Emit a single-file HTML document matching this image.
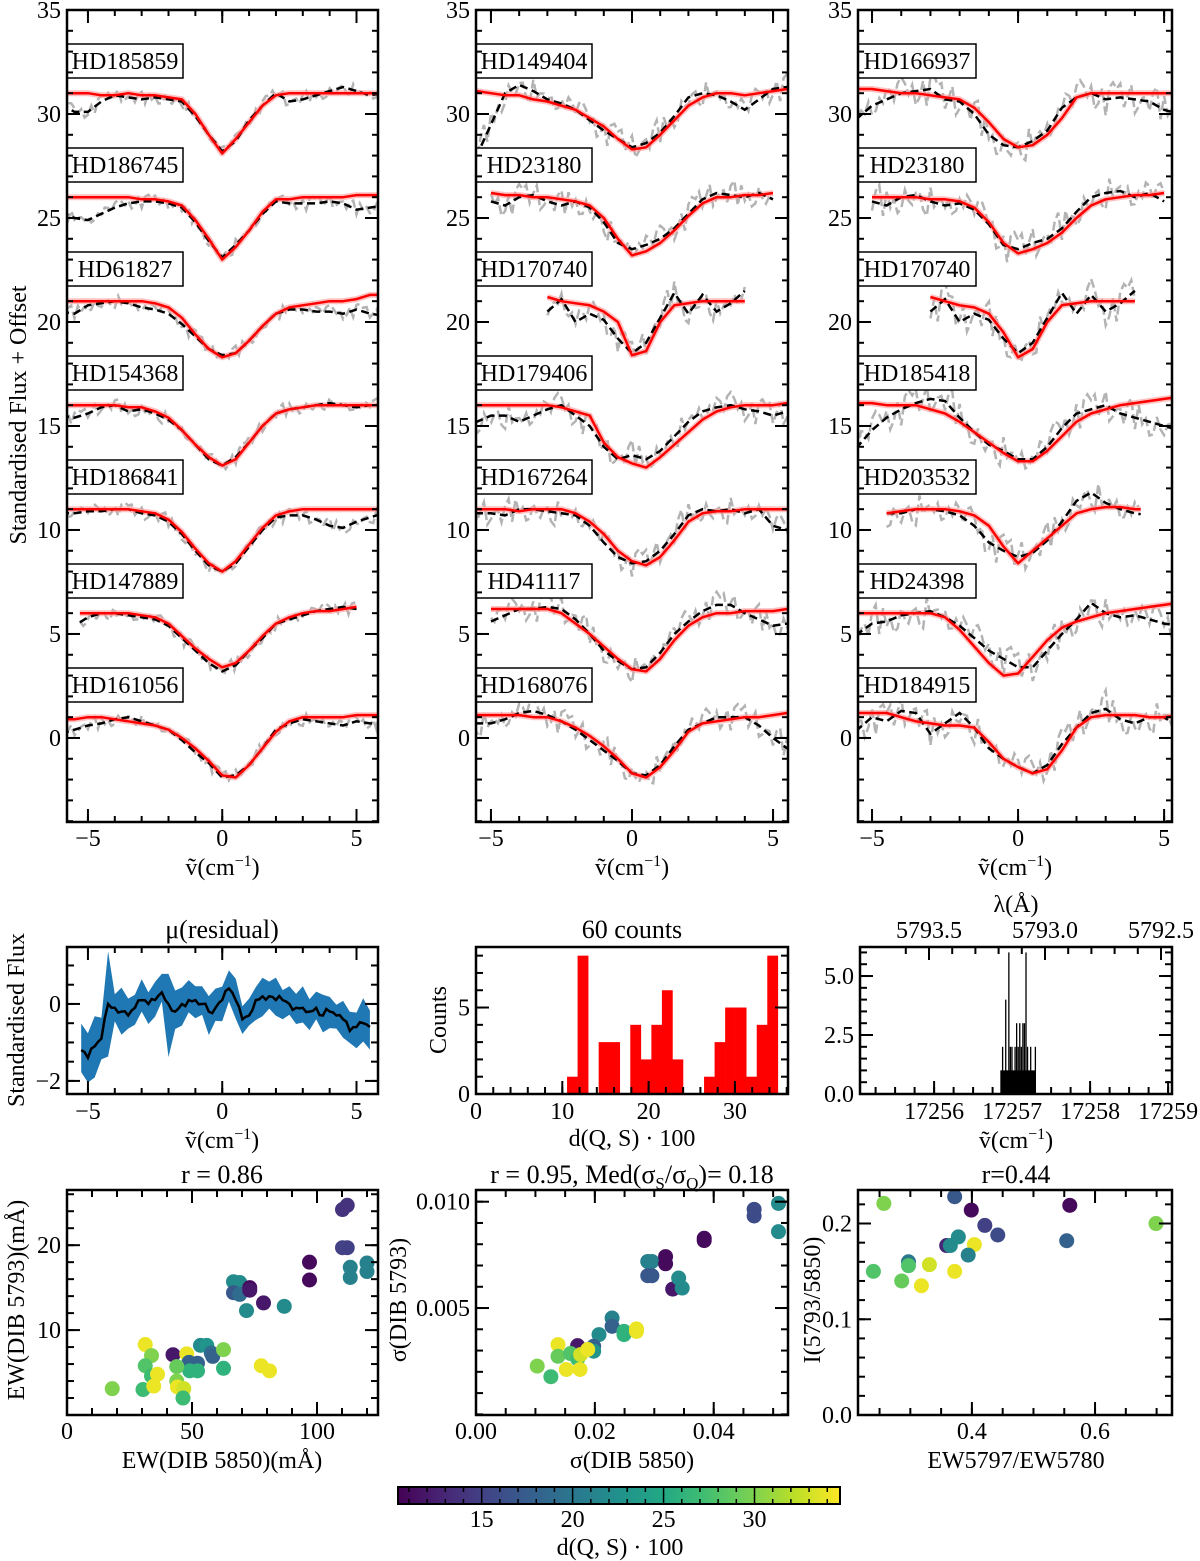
<!DOCTYPE html>
<html><head><meta charset="utf-8">
<style>
html,body{margin:0;padding:0;background:#fff;}
svg{display:block;font-family:"Liberation Serif",serif;}
</style></head>
<body>
<svg id="fig" width="1200" height="1561" viewBox="0 0 1200 1561" xmlns="http://www.w3.org/2000/svg"></svg>
<script>
// ---------------- DATA ----------------
const gridX = [-6,-5.5,-5,-4.5,-4,-3.5,-3,-2.5,-2,-1.5,-1,-0.5,0,0.5,1,1.5,2,2.5,3,3.5,4,4.5,5,5.5,6];
const noiseVals = [.3,-.4,.6,-.2,.1,-.6,.5,.2,-.3,.7,-.5,.1,.4,-.7,.2,-.1,.6,-.4,.3,-.2,.5,-.6,.1,.8,-.3,.2,-.5,.4,-.1,.6,-.7,.3,-.2,.5,-.4,.1,.7,-.3,-.6,.4,.2,-.5,.6,-.1,.3,-.4,.5,-.2,.1];

const p1Names = ["HD185859","HD186745","HD61827","HD154368","HD186841","HD147889","HD161056"];
const p1Base = [31,26,21,16,11,6,1];
const p1Red = [
[0,0,0,-.1,-.1,0,-.1,-.1,-.2,-.3,-1,-2,-2.9,-2.2,-1.4,-.6,-.1,0,0,0,0,0,0,0,0],
[0,0,0,0,0,0,-.1,-.1,-.2,-.4,-1.1,-2,-3,-2.4,-1.6,-.7,-.1,-.1,0,0,0,0,.1,.1,.1],
[0,0,0,0,0,0,0,-.1,-.3,-.8,-1.6,-2.3,-2.7,-2.5,-1.9,-1.2,-.6,-.3,-.2,-.1,0,0,.1,.3,.3],
[0,0,0,0,0,-.1,-.1,-.3,-.6,-1.2,-1.9,-2.5,-2.9,-2.6,-1.8,-1,-.4,-.2,-.1,0,0,0,0,0,0],
[0,0,0,0,0,0,-.1,-.2,-.5,-1.1,-1.9,-2.6,-3,-2.5,-1.7,-.9,-.3,-.1,0,0,0,0,0,0,0],
[0,0,0,0,0,0,-.1,-.2,-.5,-1.1,-1.7,-2.2,-2.6,-2.4,-1.8,-1.1,-.5,-.2,0,.1,.1,.2,.3,.3,.3],
[-.1,-.1,0,0,-.1,-.2,-.3,-.4,-.6,-1,-1.5,-2.1,-2.8,-2.9,-2.3,-1.5,-.7,-.2,0,0,0,0,.1,.1,.1]];
const p1Black = [
[-.5,-.9,-.9,-.4,-.1,-.2,-.3,-.2,-.3,-.4,-1.1,-2,-2.8,-2.3,-1.3,-.6,0,-.4,-.3,-.1,.1,.3,.1,-.1,0],
[-.7,-1,-1.1,-.8,-.5,-.3,-.2,-.2,-.3,-.5,-1.2,-2.1,-2.9,-2.3,-1.6,-.8,-.2,-.3,-.3,-.3,-.2,-.3,-.6,-.5,-.4],
[-.5,-.6,-.2,-.1,0,-.1,-.3,-.4,-.6,-1.1,-1.7,-2.3,-2.6,-2.5,-1.9,-1.2,-.6,-.4,-.4,-.5,-.5,-.6,-.4,-.6,-.7],
[-.5,-.6,-.4,-.1,0,-.3,-.2,-.4,-.7,-1.2,-1.9,-2.6,-2.9,-2.5,-1.8,-1,-.4,-.2,-.1,0,.1,0,-.1,0,0],
[-.2,-.2,-.1,-.1,0,0,-.2,-.3,-.6,-1.2,-2,-2.7,-3,-2.6,-1.8,-1,-.4,-.3,-.3,-.5,-.8,-.9,-.6,-.4,-.2],
[-.8,-.6,-.2,0,0,-.1,-.2,-.3,-.6,-1.2,-1.8,-2.4,-2.8,-2.5,-1.8,-1.2,-.5,-.3,-.1,.1,.2,.3,.2,.2,.2],
[-.8,-.6,-.4,-.3,-.1,0,-.2,-.4,-.6,-1.1,-1.7,-2.2,-2.9,-2.8,-2.3,-1.5,-.6,-.3,-.1,-.2,-.3,-.4,-.2,-.3,-.3]];
const p1Range = [[-6,6],[-6,6],[-6,6],[-6,6],[-6,6],[-5.3,5.0],[-6,6]];

const p2Names = ["HD149404","HD23180","HD170740","HD179406","HD167264","HD41117","HD168076"];
const p2Base = [31,26,21,16,11,6,1];
const p2Red = [
[.1,.1,0,-.1,-.1,-.3,-.4,-.6,-.8,-1.2,-1.6,-2.2,-2.7,-2.6,-2,-1.3,-.6,-.2,0,0,-.1,0,.1,.2,.2],
[.2,.2,.2,.1,.1,0,0,-.1,-.2,-.4,-1,-2,-2.8,-2.6,-2.2,-1.6,-.9,-.3,0,0,.1,.1,.2,.3,.3],
[0,0,0,0,0,0,.2,0,-.1,-.2,-.5,-1,-2.6,-2.4,-1,-.2,-.1,0,0,0,0,.1,0,0,0],
[0,0,0,0,0,0,0,-.1,-.3,-.5,-1.8,-2.5,-2.8,-3,-2.5,-1.9,-1.3,-.7,-.3,-.1,0,0,0,.1,.1],
[0,0,0,0,-.1,0,0,0,-.2,-.6,-1.2,-2,-2.5,-2.7,-2.3,-1.5,-.6,-.2,-.1,-.1,0,0,0,0,0],
[.2,.2,.2,.2,.2,.2,.2,0,-.5,-1,-1.6,-2.2,-2.7,-2.8,-2.2,-1.3,-.6,-.2,0,0,.1,.1,.1,.2,.2],
[.1,.1,.1,.1,.1,0,0,-.2,-.5,-.9,-1.4,-2,-2.7,-2.9,-2.4,-1.6,-.7,-.3,-.2,-.1,0,0,.1,.2,.2]];
const p2Black = [
[-3,-3,-1.5,0,.4,.1,-.3,-.5,-.8,-1.3,-1.8,-2.2,-2.6,-2.4,-1.9,-1.1,-.2,0,-.1,-.4,-.8,-.3,.2,.3,.3],
[-.6,-.6,-.2,-.4,0,.1,-.2,-.4,-.2,-.5,-1.2,-2.2,-2.5,-2.3,-2,-1.5,-.8,-.1,.2,.1,0,.2,-.1,-.4,-.4],
[0,0,0,0,0,-.4,-.5,.1,-1,-.6,-.9,-1.8,-2.5,-2,-.8,.4,-.6,.3,-.5,-.1,.5,.1,-.3,-.5,-.5],
[-.8,-.8,-.5,-.5,-.8,-.5,-.2,0,-.5,-1,-2,-2.6,-2.4,-2.6,-2.2,-1.5,-.8,-.3,-.1,0,-.2,-.3,-.5,-.3,-.1],
[-.3,-.2,-.2,-.3,0,0,-.1,-.2,-.3,-.8,-1.6,-2.3,-2.6,-2.5,-2,-1.2,-.3,0,-.1,0,-.2,0,-.8,-1,-1],
[-1,-1,-.4,-.1,.2,.2,.3,.2,-.3,-1,-1.8,-2.3,-2.7,-2.6,-1.9,-1,-.4,.1,.4,.4,0,-.3,-.6,-.5,-.5],
[-.3,-.3,-.3,-.1,.2,.3,.1,-.2,-.6,-1.1,-1.6,-2.1,-2.7,-2.8,-2.3,-1.4,-.6,-.3,0,0,0,-.4,-1,-1.5,-1.5]];
const p2Range = [[-6,6],[-5,5],[-3,4],[-6,6],[-6,6],[-5,6],[-6,6]];

const p3Names = ["HD166937","HD23180","HD170740","HD185418","HD203532","HD24398","HD184915"];
const p3Base = [31,26,21,16,11,6,1];
const p3Red = [
[.2,.2,.2,.1,0,0,-.1,-.2,-.3,-.7,-1.4,-2.2,-2.6,-2.5,-2,-1.2,-.2,0,0,0,0,0,0,0,0],
[.1,.1,0,0,0,0,-.1,-.1,-.2,-.5,-1.2,-2.2,-2.7,-2.5,-2.2,-1.7,-1,-.4,-.1,0,.1,.1,.2,.3,.3],
[0,0,0,0,0,0,.2,0,-.2,-.3,-.6,-1.5,-2.7,-2.3,-1,-.2,-.1,0,0,0,0,.1,0,0,0],
[.1,.1,.1,0,0,0,-.2,-.4,-.8,-1.3,-1.8,-2.3,-2.7,-2.7,-2.2,-1.5,-.8,-.4,-.2,0,.1,.2,.3,.4,.4],
[0,0,0,-.2,-.1,0,0,0,-.1,-.3,-.8,-1.8,-2.6,-2,-1.4,-.8,-.2,0,.1,.1,0,0,0,0,0],
[0,0,0,0,0,0,0,-.2,-.8,-1.6,-2.4,-3,-2.9,-2.1,-1.3,-.7,-.4,-.2,0,.1,.2,.3,.4,.5,.5],
[.2,.2,.2,.2,0,-.2,-.3,-.4,-.4,-.5,-1.2,-2,-2.4,-2.7,-2.5,-1.6,-.5,0,.1,.1,.1,0,0,.1,.1]];
const p3Black = [
[-1.2,-1.2,-.6,-.3,0,.1,.2,-.3,-.4,-1,-2,-2.5,-2.6,-2.3,-1.8,-.7,-.2,0,-.3,-.2,-.3,-.4,-.8,-1,-1],
[-.5,-.5,-.2,-.4,0,.1,-.2,-.4,-.3,-.6,-1.3,-2.3,-2.5,-2.2,-2,-1.5,-.7,0,.2,.3,0,.2,-.2,-.4,-.4],
[0,0,0,0,0,-.4,-.5,.1,-1,-.6,-.9,-1.8,-2.5,-2,-.8,.4,-.6,.3,-.5,-.1,.5,.1,-.3,-.5,-.5],
[-2,-2,-1.2,-.6,-.2,.1,.3,.2,-.6,-1.3,-1.9,-2.2,-2.6,-2.6,-2,-1.1,-.4,-.2,0,-.4,-.6,-.8,-1,-1.2,-1.2],
[0,0,0,-.2,-.2,0,0,-.1,-.3,-.8,-1.6,-2,-2.3,-2.1,-1.5,-.6,.4,.8,.3,0,-.2,-.3,-.5,0,0],
[-1,-1,-.5,-.4,-.1,0,.1,-.2,-.6,-1.2,-1.8,-2.2,-2.6,-2.6,-1.8,-1,-.3,.5,0,-.2,-.1,-.3,-.5,-.6,-.6],
[-.6,-.6,0,-.2,.3,.2,-.8,-.3,.2,-.5,-1.5,-2,-2.4,-2.7,-2.3,-1.3,-.5,.2,.4,-.1,-.3,0,0,-.5,-.5]];
const p3Range = [[-6,6],[-5,5],[-3,4],[-6,6],[-4.5,4.2],[-6,6],[-6,6]];

// residual panel
const resX = [-5.25,-5,-4.75,-4.5,-4.25,-4,-3.75,-3.5,-3.25,-3,-2.75,-2.5,-2.25,-2,-1.75,-1.5,-1.25,-1,-0.75,-0.5,-0.25,0,0.25,0.5,0.75,1,1.25,1.5,1.75,2,2.25,2.5,2.75,3,3.25,3.5,3.75,4,4.25,4.5,4.75,5,5.25,5.5];
const resMean = [-1.2,-1.4,-1.1,-.9,0,-.1,-.2,-.3,-.1,.1,0,.1,.3,0,-.2,0,.1,.1,0,-.2,-.1,.1,.4,.1,-.4,-.3,.1,.2,.2,.1,.1,0,-.1,-.1,-.2,-.1,-.3,-.2,-.3,-.4,-.7,-.6,-.5,-.6];
const resHalf = [.6,.8,.6,.6,1.3,.5,.5,.4,.4,.4,.4,.45,.4,1.2,.5,.45,.4,.45,.4,.45,.4,.5,.45,.4,.4,.4,.45,.4,.4,.45,.4,.4,.4,.45,.4,.4,.4,.45,.4,.4,.45,.5,.5,.45];

// histogram of d(Q,S)
const histStart = 10.55, histWidth = 1.221;
const histCounts = [1,8,0,3,3,0,4,2,4,6,2,0,0,1,3,5,5,1,4,8];

// wavenumber histogram
const wnStart = 17256.85, wnWidth = 0.02;
const wnCounts = [1,2,1,4,1,6,2,2,1,2,3,2,3,2,3,3,6,2,1,2,1,0,2,0,0,0];

// scatter 1: EW5850 vs EW5793
const s1x = [112.1,110.2,112.1,110.2,97.0,97.0,113.3,113.3,120.0,120.0,66.6,69.1,66.6,69.1,73.1,73.1,78.6,71.8,86.9,31.3,33.8,31.3,33.8,36.2,18.1,30.4,34.7,42.4,47.9,48.8,52.2,49.1,52.2,43.9,43.9,44.2,46.7,46.4,53.4,55.9,57.7,58.3,62.6,62.6,77.7,81.0];
const s1y = [24.7,24.2,19.7,19.7,18.0,15.9,17.4,16.2,17.9,16.9,15.7,15.6,14.4,14.2,15.0,14.7,13.2,12.3,12.8,8.3,7.0,5.8,4.6,4.8,3.1,3.0,3.4,7.1,7.2,6.2,6.1,5.2,5.2,5.7,4.0,3.3,3.1,2.0,8.2,8.2,7.3,6.9,7.7,5.5,5.8,5.2];
const s1d = [14,14,15,15,11,11,21,21,21,21,22,22,17,19,11,12,12,22,22,34,30,28,27,34,30,27,34,12,34,18,18,26,26,29,30,34,33,27,22,23,19,18,30,26,34,34];

// scatter 2: sigma
const s2x = [.0509,.0509,.0468,.0468,.0384,.0384,.0289,.0296,.0289,.0296,.0319,.0319,.0331,.0341,.0347,.0229,.0229,.0207,.0198,.0198,.0249,.0249,.0270,.0270,.0171,.0138,.0138,.0159,.0171,.0176,.0175,.0152,.0103,.0126,.0188];
const s2y = [.00992,.00859,.00964,.00933,.00828,.00817,.00719,.00719,.00652,.00652,.00742,.00708,.00589,.00641,.00594,.00453,.00414,.00375,.0032,.00297,.0039,.00375,.00402,.0039,.00323,.00328,.00273,.00286,.00261,.00281,.00211,.00211,.00227,.00177,.00305];
const s2d = [22,22,16,16,11,11,21,21,17,17,11,11,12,22,22,21,18,22,18,23,26,26,34,34,12,34,29,28,27,33,34,34,30,27,34];

// scatter 3: ratio
const s3x = [.257,.372,.559,.399,.699,.421,.442,.554,.378,.359,.365,.404,.394,.297,.297,.331,.240,.372,.286,.318];
const s3y = [.221,.228,.219,.214,.200,.198,.188,.182,.186,.177,.177,.178,.167,.160,.156,.157,.150,.150,.140,.135];
const s3d = [30,17,11,11,30,15,16,18,22,13,22,34,21,20,28,33,28,34,29,34];

const cbMin = 10.4, cbMax = 34.7;
const cbTicks = [15,20,25,30];

// ---------------- HELPERS ----------------
const svg = document.getElementById('fig');
const NS = "http://www.w3.org/2000/svg";
const TF = 24;
function mk(tag, parent){ const e=document.createElementNS(NS,tag); (parent||svg).appendChild(e); return e; }
function set(e, k, v){ e.setAttribute(k, v); }
function lin(d0,d1,r0,r1){ return v => r0 + (v-d0)*(r1-r0)/(d1-d0); }
const vir = ["#440154","#482475","#414487","#355f8d","#2a788e","#21918c","#22a884","#44bf70","#7ad151","#bddf26","#fde725"];
function hex(h){return [parseInt(h.substr(1,2),16),parseInt(h.substr(3,2),16),parseInt(h.substr(5,2),16)];}
function viridis(t){ t=Math.max(0,Math.min(1,t)); const f=t*10, i=Math.min(9,Math.floor(f)), u=f-i; const a=hex(vir[i]), b=hex(vir[i+1]); return `rgb(${a.map((c,k)=>Math.round(c+(b[k]-c)*u)).join(',')})`; }
function txt(x,y,s,size,anchor,parent){ const t=mk('text',parent); set(t,'x',x); set(t,'y',y); set(t,'font-size',size); set(t,'text-anchor',anchor||'middle'); t.textContent=s; return t; }

function panel(name, x0,x1,y0,y1, xmin,xmax,ymin,ymax){
  const g = mk('g');
  
  
  const cp = mk('clipPath', g); const cid='clip-'+name; set(cp,'id',cid);
  const r = mk('rect', cp); set(r,'x',x0); set(r,'y',y0); set(r,'width',x1-x0); set(r,'height',y1-y0);
  const data = mk('g', g); set(data,'clip-path',`url(#${cid})`);
  
  
  return {g, data, x0,x1,y0,y1, sx:lin(xmin,xmax,x0,x1), sy:lin(ymin,ymax,y1,y0), xmin,xmax,ymin,ymax};
}
function frame(p){
  const r = mk('rect', p.g); set(r,'x',p.x0); set(r,'y',p.y0); set(r,'width',p.x1-p.x0); set(r,'height',p.y1-p.y0);
  set(r,'fill','none'); set(r,'stroke','#000'); set(r,'stroke-width',2.5);
  
  
}
function xticks(p, vals, len, top, bottom, fx){
  const f = fx || p.sx;
  vals.forEach(v=>{ const x=f(v); if(x<p.x0-0.5||x>p.x1+0.5) return;
    if(bottom){ const l=mk('line',p.g); set(l,'x1',x);set(l,'x2',x);set(l,'y1',p.y1);set(l,'y2',p.y1-len);set(l,'stroke','#000');set(l,'stroke-width',2); }
    if(top){ const l=mk('line',p.g); set(l,'x1',x);set(l,'x2',x);set(l,'y1',p.y0);set(l,'y2',p.y0+len);set(l,'stroke','#000');set(l,'stroke-width',2); }
  });
}
function yticks(p, vals, len){
  vals.forEach(v=>{ const y=p.sy(v); if(y<p.y0-0.5||y>p.y1+0.5) return;
    [[p.x0,p.x0+len],[p.x1,p.x1-len]].forEach(a=>{ const l=mk('line',p.g); set(l,'x1',a[0]);set(l,'x2',a[1]);set(l,'y1',y);set(l,'y2',y);set(l,'stroke','#000');set(l,'stroke-width',2); });
  });
}
function range(a,b,s){ const r=[]; for(let v=a; v<=b+1e-9; v+=s) r.push(Math.round(v*1e6)/1e6); return r; }
function xlabels(p, vals, labels, y, fx){ const f=fx||p.sx; vals.forEach((v,i)=>{ const t=txt(f(v), y, labels[i], TF);   }); }
function ylabels(p, vals, labels){ vals.forEach((v,i)=>{ const t=txt(p.x0-6, p.sy(v)+8, labels[i], TF, 'end');   }); }
function pathFrom(p, xs, ys){ return xs.map((x,i)=>(i?'L':'M')+p.sx(x).toFixed(1)+','+p.sy(ys[i]).toFixed(1)).join(''); }
function interp(xs, ys, x){ if(x<=xs[0]) return ys[0]; for(let i=1;i<xs.length;i++){ if(x<=xs[i]){ const u=(x-xs[i-1])/(xs[i]-xs[i-1]); return ys[i-1]+u*(ys[i]-ys[i-1]); } } return ys[ys.length-1]; }
function nuLabel(x,y){ const t=txt(x,y,'',TF);  
  const a=mk('tspan',t); a.textContent='ṽ(cm'; const b=mk('tspan',t); set(b,'dy',-9); set(b,'font-size',16); b.textContent='−1'; const c=mk('tspan',t); set(c,'dy',9); c.textContent=')'; }

// ---------------- TOP SPECTRA ----------------
const topDefs = [
 {name:'spectra-panel-1', x0:67,x1:378,xmin:-5.78,xmax:5.8, names:p1Names, base:p1Base, red:p1Red, black:p1Black, rng:p1Range, amp:.45, box:116},
 {name:'spectra-panel-2', x0:476,x1:788,xmin:-5.53,xmax:5.53, names:p2Names, base:p2Base, red:p2Red, black:p2Black, rng:p2Range, amp:.9, box:116},
 {name:'spectra-panel-3', x0:858,x1:1172,xmin:-5.48,xmax:5.27, names:p3Names, base:p3Base, red:p3Red, black:p3Black, rng:p3Range, amp:1.1, box:118}
];
topDefs.forEach((d,pi)=>{
  const p = panel(d.name, d.x0,d.x1,10,822, d.xmin,d.xmax,-4.04,35);
  d.names.forEach((nm,s)=>{
    const [a,b] = d.rng[s];
    const gx=[], gy=[];
    for(let k=0, x=a; x<=b+1e-9; k++, x+=0.125){ gx.push(x); gy.push(d.base[s]+interp(gridX,d.black[s],x)+noiseVals[(k*3+s*7+pi*5)%noiseVals.length]*d.amp); }
    const g = mk('path', p.data); set(g,'d',pathFrom(p,gx,gy)); set(g,'fill','none'); set(g,'stroke','#b3b3b3'); set(g,'stroke-width',2.5); set(g,'stroke-dasharray','9,4');
    
    
    const bx=[], by=[], rx=[], ry=[];
    gridX.forEach((x,i)=>{ if(x>=a-1e-9 && x<=b+1e-9){ bx.push(x); by.push(d.base[s]+d.black[s][i]); rx.push(x); ry.push(d.base[s]+d.red[s][i]); } });
    if(bx[0]>a){ bx.unshift(a); by.unshift(d.base[s]+interp(gridX,d.black[s],a)); rx.unshift(a); ry.unshift(d.base[s]+interp(gridX,d.red[s],a)); }
    if(bx[bx.length-1]<b){ bx.push(b); by.push(d.base[s]+interp(gridX,d.black[s],b)); rx.push(b); ry.push(d.base[s]+interp(gridX,d.red[s],b)); }
    const h = mk('path', p.data); set(h,'d',pathFrom(p,rx,ry)); set(h,'fill','none'); set(h,'stroke','#ff9a9a'); set(h,'stroke-width',6); set(h,'opacity',0.6); set(h,'stroke-linejoin','round');
    
    
    const bl = mk('path', p.data); set(bl,'d',pathFrom(p,bx,by)); set(bl,'fill','none'); set(bl,'stroke','#000'); set(bl,'stroke-width',2.5); set(bl,'stroke-dasharray','8,4.5');
    
    
    const rl = mk('path', p.data); set(rl,'d',pathFrom(p,rx,ry)); set(rl,'fill','none'); set(rl,'stroke','#ff0000'); set(rl,'stroke-width',2.5); set(rl,'stroke-linejoin','round');
    
    
    const ly = 44 + 104*s;
    const br = mk('rect', p.g); set(br,'x',d.x0); set(br,'y',ly); set(br,'width',d.box); set(br,'height',34); set(br,'fill','#fff'); set(br,'stroke','#000'); set(br,'stroke-width',1.5);
    
    
    const t = txt(d.x0+d.box/2, ly+25, nm, TF, 'middle', p.g);
    
    
  });
  frame(p);
  xticks(p, range(-6,6,1), 6, true, true);
  xticks(p, [-5,0,5], 13, true, true);
  yticks(p, range(-4,35,1), 6);
  yticks(p, range(0,35,5), 13);
  ylabels(p, range(0,35,5), ['0','5','10','15','20','25','30','35']);
  xlabels(p, [-5,0,5], ['−5','0','5'], 846);
  nuLabel((d.x0+d.x1)/2, 875);
});
(function(){ const t=txt(26,415,'Standardised Flux + Offset',TF); set(t,'transform','rotate(-90 26 415)');   })();

// ---------------- MIDDLE ROW ----------------
(function(){
  const p = panel('residual-panel', 67,378,947,1094, -5.78,5.8, -2.34,1.48);
  let up='', lo='';
  resX.forEach((x,i)=>{ up += (i?'L':'M')+p.sx(x).toFixed(1)+','+p.sy(resMean[i]+resHalf[i]*(1+noiseVals[i%noiseVals.length]*.5)).toFixed(1); });
  for(let i=resX.length-1;i>=0;i--){ lo += 'L'+p.sx(resX[i]).toFixed(1)+','+p.sy(resMean[i]-resHalf[i]*(1-noiseVals[(i+11)%noiseVals.length]*.5)).toFixed(1); }
  const band = mk('path', p.data); set(band,'d',up+lo+'Z'); set(band,'fill','#1f77b4');
  
  
  const mx=[], my=[];
  resX.forEach((x,i)=>{ mx.push(x); my.push(resMean[i]); if(i<resX.length-1){ mx.push(x+0.125); my.push((resMean[i]+resMean[i+1])/2+noiseVals[(i*2)%noiseVals.length]*.15); } });
  const m = mk('path', p.data); set(m,'d',pathFrom(p,mx,my)); set(m,'fill','none'); set(m,'stroke','#000'); set(m,'stroke-width',2.5);
  
  
  frame(p);
  xticks(p, range(-5,5,1), 6, true, true); xticks(p,[-5,0,5],13,true,true);
  yticks(p, range(-2,1.5,0.5), 7); yticks(p,[-2,0],13);
  ylabels(p, [-2,0], ['−2','0']);
  xlabels(p, [-5,0,5], ['−5','0','5'], 1119);
  nuLabel(222, 1148);
  const t=txt(222,938,'μ(residual)',26);  
  const yl=txt(24,1020,'Standardised Flux',TF); set(yl,'transform','rotate(-90 24 1020)');  
})();
(function(){
  const p = panel('dqs-histogram', 476,788,947,1094, 0,36.15, 0,8.5);
  histCounts.forEach((c,i)=>{ if(!c) return; const xa=p.sx(histStart+i*histWidth), xb=p.sx(histStart+(i+1)*histWidth);
    const r=mk('rect',p.data); set(r,'x',xa); set(r,'y',p.sy(c)); set(r,'width',xb-xa+0.3); set(r,'height',p.sy(0)-p.sy(c)); set(r,'fill','#ff0000');
    
    
  });
  frame(p);
  xticks(p, range(0,36,2), 7, false, true); xticks(p,[0,10,20,30],13,false,true);
  yticks(p, range(0,8,1), 7); yticks(p,[0,5],13);
  ylabels(p,[0,5],['0','5']);
  xlabels(p,[0,10,20,30],['0','10','20','30'],1119);
  const xl=txt(632,1146,'d(Q, S) · 100',TF);  
  const t=txt(632,938,'60 counts',26);  
  const yl=txt(446,1020,'Counts',TF); set(yl,'transform','rotate(-90 446 1020)');  
})();
(function(){
  const p = panel('wavenumber-histogram', 860,1172,947,1094, 17255.05,17259.05, 0,6.23);
  const base=mk('rect',p.data); set(base,'x',p.sx(17256.85)); set(base,'y',p.sy(1)); set(base,'width',p.sx(17257.3)-p.sx(17256.85)); set(base,'height',p.sy(0)-p.sy(1)); set(base,'fill','#000');
  
  
  wnCounts.forEach((c,i)=>{ if(!c) return; const xa=p.sx(wnStart+i*wnWidth);
    const r=mk('rect',p.data); set(r,'x',xa); set(r,'y',p.sy(c)); set(r,'width',1.3); set(r,'height',p.sy(0)-p.sy(c)); set(r,'fill','#000');
    
    
  });
  frame(p);
  xticks(p, range(17255.25,17259,0.25), 7, false, true); xticks(p,[17256,17257,17258,17259],13,false,true);
  const wl = w => 1045 - (w-5793.0)*232;
  xticks(p, range(5792.4,5793.6,0.1), 7, true, false, wl); xticks(p,[5793.5,5793.0,5792.5],13,true,false,wl);
  yticks(p, range(0,6,0.5), 7); yticks(p,[0,2.5,5],13);
  ylabels(p,[0,2.5,5],['0.0','2.5','5.0']);
  xlabels(p,[17256,17257,17258,17259],['17256','17257','17258','17259'],1119);
  xlabels(p,[5793.5,5793.0,5792.5],['5793.5','5793.0','5792.5'],938,wl);
  nuLabel(1016,1148);
  const t=txt(1016,912,'λ(Å)',TF);  
})();

// ---------------- BOTTOM ROW ----------------
function scatter(name,p,xs,ys,ds){
  xs.forEach((x,i)=>{ const c=mk('circle',p.data); set(c,'cx',p.sx(x)); set(c,'cy',p.sy(ys[i])); set(c,'r',7.5); set(c,'fill',viridis((ds[i]-cbMin)/(cbMax-cbMin)));
    
    
  });
}
(function(){
  const p = panel('ew-scatter', 67,378,1190,1415, 0,124.4, 0,26.5);
  scatter('ew', p, s1x, s1y, s1d);
  frame(p);
  xticks(p, range(0,120,10), 7, true, true); xticks(p,[0,50,100],13,true,true);
  yticks(p, range(0,26,2), 7); yticks(p,[10,20],13);
  ylabels(p,[10,20],['10','20']);
  xlabels(p,[0,50,100],['0','50','100'],1439);
  const xl=txt(222,1468,'EW(DIB 5850)(mÅ)',TF);  
  const yl=txt(24,1300,'EW(DIB 5793)(mÅ)',TF); set(yl,'transform','rotate(-90 24 1300)');  
  const t=txt(222,1183,'r =  0.86',26);  
})();
(function(){
  const p = panel('sigma-scatter', 476,788,1190,1415, 0,.0525, -0.00003,.01055);
  scatter('sigma', p, s2x, s2y, s2d);
  frame(p);
  xticks(p, range(0,.05,.005), 7, true, true); xticks(p,[0,.02,.04],13,true,true);
  yticks(p, range(0,.01,.001), 7); yticks(p,[.005,.01],13);
  ylabels(p,[.005,.01],['0.005','0.010']);
  xlabels(p,[0,.02,.04],['0.00','0.02','0.04'],1439);
  const xl=txt(632,1468,'σ(DIB 5850)',TF);  
  const yl=txt(406,1300,'σ(DIB 5793)',TF); set(yl,'transform','rotate(-90 406 1300)');  
  const t=txt(632,1183,'',26);  
  const parts=[['r =  0.95, Med(σ',0],['S',6],['/σ',-6],['Q',6],[')= 0.18',-6]];
  parts.forEach(q=>{ const s=mk('tspan',t); set(s,'dy',q[1]); if(q[0]==='S'||q[0]==='Q') set(s,'font-size',17); s.textContent=q[0]; });
})();
(function(){
  const p = panel('ratio-scatter', 858,1172,1190,1415, .215,.725, 0,.235);
  scatter('ratio', p, s3x, s3y, s3d);
  frame(p);
  xticks(p, range(.25,.7,.05), 7, true, true); xticks(p,[.4,.6],13,true,true);
  yticks(p, range(0,.22,.02), 7); yticks(p,[0,.1,.2],13);
  ylabels(p,[0,.1,.2],['0.0','0.1','0.2']);
  xlabels(p,[.4,.6],['0.4','0.6'],1439);
  const xl=txt(1016,1468,'EW5797/EW5780',TF);  
  const yl=txt(820,1300,'I(5793/5850)',TF); set(yl,'transform','rotate(-90 820 1300)');  
  const t=txt(1016,1183,'r=0.44',26);  
})();

// ---------------- COLORBAR ----------------
(function(){
  const g=mk('g');  
  const defs=mk('defs',g); const lg=mk('linearGradient',defs); set(lg,'id','virgrad');
  vir.forEach((c,i)=>{ const s=mk('stop',lg); set(s,'offset',(i*10)+'%'); set(s,'stop-color',c); });
  const cx = lin(cbMin,cbMax,398,840);
  const r=mk('rect',g); set(r,'x',398); set(r,'y',1487); set(r,'width',442); set(r,'height',17); set(r,'fill','url(#virgrad)'); set(r,'stroke','#000'); set(r,'stroke-width',2);
   
  range(11,34,1).forEach(v=>{ const x=cx(v); const big=cbTicks.includes(v);
    [[1487,1487+(big?9:5)],[1504,1504-(big?9:5)]].forEach(a=>{ const l=mk('line',g); set(l,'x1',x);set(l,'x2',x);set(l,'y1',a[0]);set(l,'y2',a[1]);set(l,'stroke','#000');set(l,'stroke-width',1.5); }); });
  cbTicks.forEach(v=>{ const t=txt(cx(v),1527,String(v),TF,'middle',g);   });
  const t=txt(620,1555,'d(Q, S) · 100',TF,'middle',g);  
})();
</script>
</body></html>
